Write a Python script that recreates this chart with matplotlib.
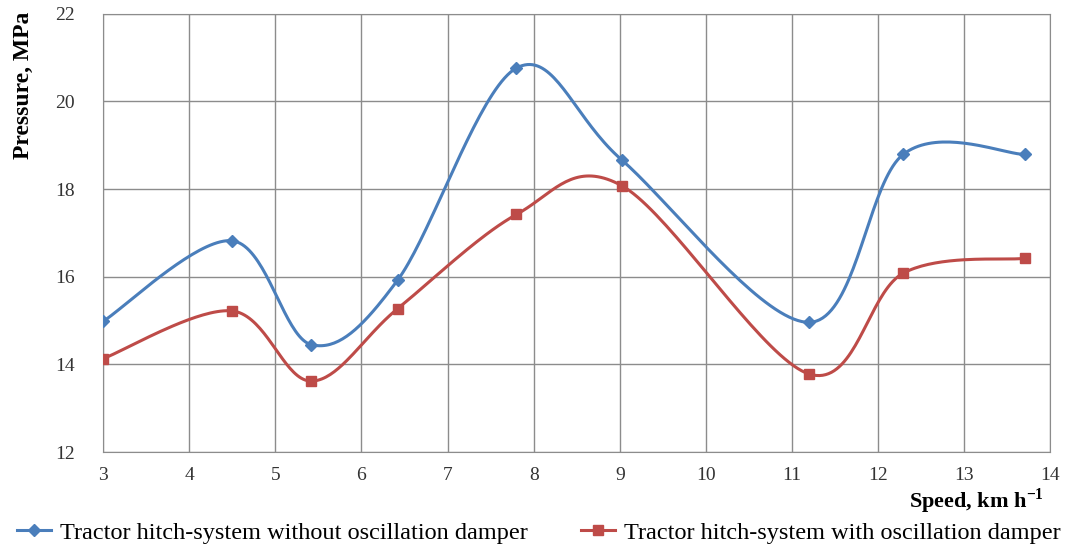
import numpy as np
import matplotlib.pyplot as plt

plt.rcParams['font.family'] = ['Liberation Serif', 'DejaVu Serif']
plt.rcParams['mathtext.fontset'] = 'custom'
plt.rcParams['mathtext.rm'] = 'Liberation Serif'
plt.rcParams['mathtext.bf'] = 'Liberation Serif:bold'

# Donnees
speed = [3.0, 4.5, 5.42, 6.42, 7.8, 9.02, 11.2, 12.29, 13.7]
p_without = [14.98, 16.82, 14.45, 15.92, 20.76, 18.67, 14.96, 18.79, 18.79]
p_with = [14.13, 15.22, 13.62, 15.27, 17.42, 18.08, 13.78, 16.08, 16.42]

label_without = "Tractor hitch-system without oscillation damper"
label_with = "Tractor hitch-system with oscillation damper"


# Courbe lissee type Excel (Bezier, tangentes de Catmull-Rom)
def smooth(x, y, n=40):
    pts = np.column_stack([x, y])
    out = []
    for i in range(len(pts) - 1):
        p0 = pts[max(i - 1, 0)]
        p1 = pts[i]
        p2 = pts[i + 1]
        p3 = pts[min(i + 2, len(pts) - 1)]
        c1 = p1 + (p2 - p0) / 6
        c2 = p2 - (p3 - p1) / 6
        t = np.linspace(0, 1, n)[:, None]
        seg = ((1 - t) ** 3 * p1 + 3 * (1 - t) ** 2 * t * c1
               + 3 * (1 - t) * t ** 2 * c2 + t ** 3 * p2)
        out.append(seg)
    out = np.vstack(out)
    return out[:, 0], out[:, 1]


blue = '#4a7ebb'
red = '#be4b48'

fig = plt.figure(figsize=(10.67, 5.48), dpi=100)
ax = fig.add_axes([0.0965, 0.175, 0.888, 0.8])

sx, sy = smooth(speed, p_without)
ax.plot(sx, sy, color=blue, lw=2.2, zorder=3)
ax.plot(speed, p_without, ls='none', marker='D', ms=6, color=blue, zorder=4)
sx, sy = smooth(speed, p_with)
ax.plot(sx, sy, color=red, lw=2.2, zorder=3)
ax.plot(speed, p_with, ls='none', marker='s', ms=7, color=red, zorder=4)

# elements de legende
ax.plot([], [], color=blue, lw=2.2, marker='D', ms=6, label=label_without)
ax.plot([], [], color=red, lw=2.2, marker='s', ms=7, label=label_with)

ax.set_xlim(3, 14)
ax.set_ylim(12, 22)
ax.set_xticks(range(3, 15))
ax.set_yticks(range(12, 23, 2))
ax.grid(True, color='#8c8c8c', lw=1)
ax.set_axisbelow(True)
for s in ax.spines.values():
    s.set_color('#8c8c8c')
ax.tick_params(length=0, labelsize=14, colors='#333333')
ax.tick_params(axis='y', pad=20)
ax.tick_params(axis='x', pad=11)

fig.text(0.012, 0.978, "Pressure, MPa", rotation=90, ha='left', va='top',
         fontsize=17, fontweight='bold')
fig.text(0.978, 0.085, r"Speed, km h$^{\mathbf{-1}}$", ha='right', va='center',
         fontsize=16, fontweight='bold')

fig.legend(loc='center', bbox_to_anchor=(0.505, 0.028), ncol=2, frameon=False,
           prop={'family': 'Liberation Serif', 'size': 17.5},
           handlelength=1.4, handletextpad=0.35, columnspacing=2.2,
           borderpad=0, borderaxespad=0)

plt.savefig('out.png', dpi=100)
